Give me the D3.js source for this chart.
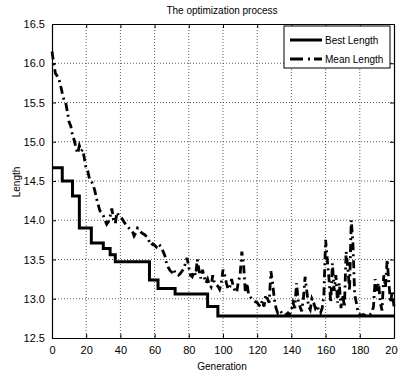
<!DOCTYPE html>
<html>
<head>
<meta charset="utf-8">
<script src="https://cdn.jsdelivr.net/npm/d3@7"></script>
<style>
  body { margin: 0; background: #fff; }
  text { font-family: "Liberation Sans", Arial, sans-serif; }
</style>
</head>
<body>
<div id="chart"></div>
<script>
var w = 398;
var h = 373;

// best length: generation where each step starts, and its value
var bestGen = [0, 6, 12, 16, 23, 30, 34, 37, 57, 62, 72, 91, 97, 200];
var bestVal = [14.67, 14.5, 14.31, 13.9, 13.71, 13.64, 13.56, 13.47, 13.24, 13.13, 13.06, 12.9, 12.78, 12.78];

// mean length, one value per generation 0..200
var meanVal = [
  16.15, 16.0, 15.87, 15.84, 15.8, 15.72, 15.62, 15.53, 15.5, 15.38,
  15.25, 15.2, 15.08, 15.02, 14.92, 14.85, 14.95, 14.88, 14.9, 14.78,
  14.65, 14.62, 14.52, 14.5, 14.45, 14.38, 14.28, 14.2, 14.12, 14.1,
  14.06, 14.0, 13.95, 13.98, 14.05, 14.15, 14.0, 13.96, 14.1, 14.06,
  14.05, 14.02, 13.98, 13.95, 13.92, 13.9, 13.88, 13.86, 13.8, 13.84,
  13.9, 13.88, 13.85, 13.83, 13.82, 13.8, 13.78, 13.72, 13.68, 13.7,
  13.68, 13.66, 13.7, 13.68, 13.66, 13.6, 13.55, 13.45, 13.4, 13.36,
  13.34, 13.38, 13.33, 13.32, 13.3, 13.32, 13.35, 13.38, 13.45, 13.52,
  13.4, 13.3, 13.28, 13.35, 13.3, 13.5, 13.36, 13.26, 13.37, 13.28,
  13.2, 13.25, 13.18, 13.15, 13.3, 13.2, 13.17, 13.16, 13.12, 13.2,
  13.37, 13.3, 13.2, 13.12, 13.15, 13.25, 13.16, 13.1, 13.08, 13.22,
  13.3, 13.6, 13.45, 13.1, 13.2, 13.05, 13.02, 13.0, 12.98, 12.96,
  12.95, 12.92, 12.9, 12.98, 12.9, 13.05, 13.0, 12.95, 13.35, 13.2,
  13.0, 12.88, 12.82, 12.85, 12.83, 12.8, 12.79, 12.8, 12.82, 12.8,
  12.85, 12.95, 12.88, 13.2, 12.98, 12.9, 12.84, 13.0, 13.28, 13.1,
  12.9, 12.86, 13.0, 12.95, 12.88, 12.92, 12.85, 12.82, 12.88, 13.05,
  13.75, 13.5, 13.25, 12.95, 13.45, 13.1, 13.3, 12.95, 13.2, 12.88,
  13.05, 12.9, 13.6, 13.4, 13.1, 14.0, 13.7, 13.05, 12.95, 12.82,
  12.8, 12.79, 12.8, 12.79, 12.8, 12.79, 12.8, 12.82, 12.9, 13.25,
  13.1, 13.2, 12.95, 12.85, 13.3, 13.15, 13.5, 13.2, 12.95, 13.1,
  12.9
];

var xTicks = [0, 20, 40, 60, 80, 100, 120, 140, 160, 180, 200];
var yTicks = [12.5, 13, 13.5, 14, 14.5, 15, 15.5, 16, 16.5];

var pL = 52, pR = 394, pT = 24, pB = 338;

var svg = d3.select("#chart").append("svg").attr("width", w).attr("height", h);

var x = d3.scaleLinear().domain([0, 200]).range([pL, pR]);
var y = d3.scaleLinear().domain([12.5, 16.5]).range([pB, pT]);

// grid
svg.append("g").selectAll("line").data(xTicks.slice(1, -1)).enter().append("line")
  .attr("x1", function(d) { return x(d); }).attr("x2", function(d) { return x(d); })
  .attr("y1", pT).attr("y2", pB)
  .attr("stroke", "#333").attr("stroke-width", 0.8).attr("stroke-dasharray", "1,2");
svg.append("g").selectAll("line").data(yTicks.slice(1, -1)).enter().append("line")
  .attr("y1", function(d) { return y(d); }).attr("y2", function(d) { return y(d); })
  .attr("x1", pL).attr("x2", pR)
  .attr("stroke", "#333").attr("stroke-width", 0.8).attr("stroke-dasharray", "1,2");

// axes (ticks inward, box)
var xAxis = d3.axisBottom(x).tickValues(xTicks).tickSizeInner(-4).tickSizeOuter(0).tickPadding(8);
var yAxis = d3.axisLeft(y).tickValues(yTicks).tickSizeInner(-4).tickSizeOuter(0).tickPadding(7);

svg.append("g").attr("transform", "translate(0," + pB + ")").call(xAxis);
svg.append("g").attr("transform", "translate(" + pL + ",0)").call(yAxis);
svg.append("g").attr("transform", "translate(0," + pT + ")")
  .call(d3.axisTop(x).tickValues(xTicks).tickSizeInner(-4).tickSizeOuter(0).tickFormat(""));
svg.append("g").attr("transform", "translate(" + pR + ",0)")
  .call(d3.axisRight(y).tickValues(yTicks).tickSizeInner(-4).tickSizeOuter(0).tickFormat(""));

svg.selectAll(".domain").attr("stroke", "#000").attr("stroke-width", 1.2);
svg.selectAll(".tick line").attr("stroke", "#000");
svg.selectAll(".tick text").attr("font-size", 11).attr("fill", "#000")
  .attr("font-family", "Liberation Sans, Arial, sans-serif");

// lines
var bestPts = bestGen.map(function(g, i) { return [g, bestVal[i]]; });
var meanPts = meanVal.map(function(v, i) { return [i, v]; });

var stepLine = d3.line().x(function(d) { return x(d[0]); }).y(function(d) { return y(d[1]); })
  .curve(d3.curveStepAfter);
var plainLine = d3.line().x(function(d) { return x(d[0]); }).y(function(d) { return y(d[1]); });

svg.append("path").datum(meanPts).attr("d", plainLine)
  .attr("fill", "none").attr("stroke", "#000").attr("stroke-width", 2.8)
  .attr("stroke-dasharray", "8,4,2,4");

svg.append("path").datum(bestPts).attr("d", stepLine)
  .attr("fill", "none").attr("stroke", "#000").attr("stroke-width", 3);

// titles
svg.append("text").text("The optimization process")
  .attr("x", 222).attr("y", 14).attr("text-anchor", "middle").attr("font-size", 10);
svg.append("text").text("Generation")
  .attr("x", 222).attr("y", 370).attr("text-anchor", "middle").attr("font-size", 10);
svg.append("text").text("Length")
  .attr("transform", "translate(20,182) rotate(-90)").attr("text-anchor", "middle").attr("font-size", 10);

// legend
var lg = svg.append("g");
lg.append("rect").attr("x", 284).attr("y", 26).attr("width", 106).attr("height", 42)
  .attr("fill", "#fff").attr("stroke", "#000").attr("stroke-width", 1);
var legItems = [["Best Length", null, 40], ["Mean Length", "13,5,2,4", 59]];
legItems.forEach(function(it) {
  lg.append("line").attr("x1", 290).attr("x2", 322).attr("y1", it[2]).attr("y2", it[2])
    .attr("stroke", "#000").attr("stroke-width", 3).attr("stroke-dasharray", it[1]);
  lg.append("text").text(it[0]).attr("x", 325).attr("y", it[2] + 4).attr("font-size", 10);
});
</script>
</body>
</html>
